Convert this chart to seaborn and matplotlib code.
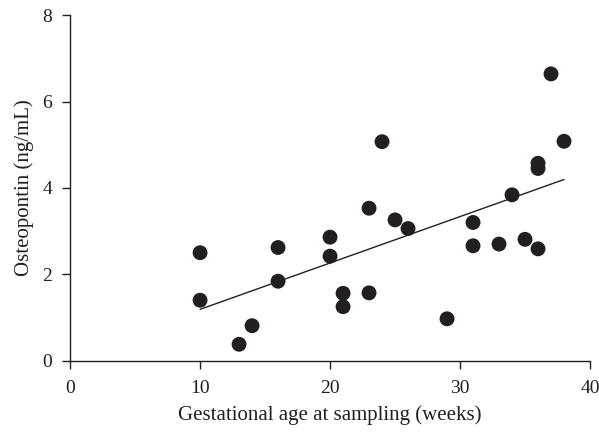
import numpy as np
import pandas as pd
import matplotlib
matplotlib.use("Agg")
import matplotlib.pyplot as plt
import seaborn as sns

# --- dados ---
idade_gestacional = [10, 10, 13, 14, 16, 16, 20, 20, 21, 21, 23, 23, 24,
                     25, 26, 29, 31, 31, 33, 34, 35, 36, 36, 36, 37, 38]
osteopontina = [2.50, 1.40, 0.38, 0.81, 2.62, 1.84, 2.86, 2.42, 1.56, 1.25,
                3.53, 1.57, 5.07, 3.26, 3.06, 0.97, 3.20, 2.66, 2.70, 3.84,
                2.81, 4.57, 4.45, 2.59, 6.64, 5.08]
x_ticks = [0, 10, 20, 30, 40]
y_ticks = [0, 2, 4, 6, 8]

df = pd.DataFrame({"idade": idade_gestacional, "opn": osteopontina})

sns.set_style("ticks")
plt.rcParams["font.family"] = ["Liberation Serif", "DejaVu Serif"]

fig = plt.figure(figsize=(5.99, 4.33), dpi=100)
ax = fig.add_axes([0.117, 0.167, 0.868, 0.798])

cor = "#231f20"
sns.regplot(data=df, x="idade", y="opn", ci=None, ax=ax,
            scatter_kws={"s": 115, "color": cor, "edgecolor": "none", "alpha": 1},
            line_kws={"color": cor, "linewidth": 1.0})

ax.set_xlim(0, 40)
ax.set_ylim(0, 8)
ax.set_xticks(x_ticks)
ax.set_yticks(y_ticks)
ax.tick_params(labelsize=14, colors=cor, length=6, width=1, direction="out")
ax.tick_params(axis="x", pad=8)
ax.tick_params(axis="y", pad=7)
for lado in ["top", "right"]:
    ax.spines[lado].set_visible(False)
for lado in ["left", "bottom"]:
    ax.spines[lado].set_color(cor)
    ax.spines[lado].set_linewidth(1)
ax.set_xlabel("Gestational age at sampling (weeks)", fontsize=15, color=cor, labelpad=6)
ax.set_ylabel("Osteopontin (ng/mL)", fontsize=15, color=cor, labelpad=6)
for lab in ax.get_xticklabels() + ax.get_yticklabels():
    lab.set_color(cor)

fig.savefig("out.png", dpi=100)
